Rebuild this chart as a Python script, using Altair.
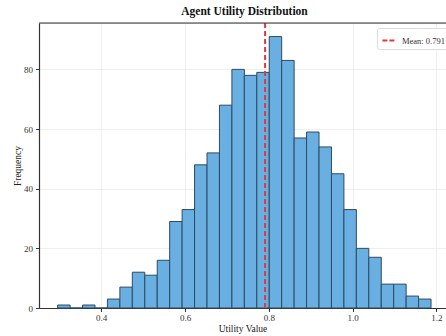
import altair as alt
import pandas as pd

# ---- data ----
bin_start = 0.296
bin_width = 0.0297
counts = [1, 0, 1, 0, 3, 7, 12, 11, 16, 29, 33, 48, 52, 68, 80, 78, 79, 91, 83,
          57, 59, 54, 45, 33, 20, 17, 8, 8, 4, 3]
mean_value = 0.791
mean_label = "Mean: 0.791"
x_ticks = [0.4, 0.6, 0.8, 1.0, 1.2]
y_ticks = [0, 20, 40, 60, 80]

bins = pd.DataFrame({
    "lo": [bin_start + i * bin_width for i in range(len(counts))],
    "hi": [bin_start + (i + 1) * bin_width for i in range(len(counts))],
    "count": counts,
})
mean_df = pd.DataFrame({"x": [mean_value], "label": [mean_label]})

FONT = "Liberation Serif"
xscale = alt.Scale(domain=[0.2515, 1.2227], nice=False, zero=False)
yscale = alt.Scale(domain=[0, 95.55], nice=False)

bars = alt.Chart(bins).mark_rect(
    fill="#6aafe2", stroke="#2e4a60", strokeWidth=1
).encode(
    x=alt.X("lo:Q", scale=xscale,
            axis=alt.Axis(values=x_ticks, format=".1f", title="Utility Value",
                          grid=True, gridColor="#ebebeb", gridWidth=0.8,
                          domainColor="#333333", domainWidth=1.2,
                          tickColor="#333333", tickSize=3.5,
                          labelFont=FONT, labelFontSize=9, labelColor="#333333",
                          labelPadding=2,
                          titleFont=FONT, titleFontSize=9.5, titleFontWeight="normal",
                          titleColor="#222222", titlePadding=1)),
    x2="hi:Q",
    y=alt.Y("count:Q", scale=yscale,
            axis=alt.Axis(values=y_ticks, title="Frequency",
                          grid=True, gridColor="#ebebeb", gridWidth=0.8,
                          domainColor="#333333", domainWidth=1.2,
                          tickColor="#333333", tickSize=3.5,
                          labelFont=FONT, labelFontSize=9, labelColor="#333333",
                          labelPadding=3,
                          titleFont=FONT, titleFontSize=9.5, titleFontWeight="normal",
                          titleColor="#222222", titlePadding=1)),
    y2=alt.datum(0),
)

mean_rule = alt.Chart(mean_df).mark_rule(strokeDash=[5, 3], strokeWidth=2).encode(
    x=alt.X("x:Q", scale=xscale),
    color=alt.Color("label:N", scale=alt.Scale(range=["#e0393e"]),
                    legend=alt.Legend(title=None, orient="none",
                                      legendX=338, legendY=5,
                                      symbolType="stroke", symbolStrokeWidth=2,
                                      symbolDash=[5, 2], symbolSize=200,
                                      labelFont=FONT, labelFontSize=8.5,
                                      labelColor="#333333",
                                      fillColor="white", strokeColor="#dddddd",
                                      padding=4, cornerRadius=2)),
)

top_line = alt.Chart(mean_df).mark_rule(color="#333333", strokeWidth=1.2).encode(
    y=alt.value(0), x=alt.value(0), x2=alt.value(407)
)

chart = alt.layer(bars, mean_rule, top_line).properties(
    width=407, height=285,
    title=alt.TitleParams("Agent Utility Distribution", font=FONT, fontSize=11.5,
                          fontWeight="bold", color="#111111", anchor="middle",
                          dx=2, offset=5),
    autosize=alt.AutoSizeParams(type="none"),
    padding={"left": 39, "top": 23, "right": 0, "bottom": 28},
).configure_view(stroke=None).configure(background="white")

chart.save("out.html", embed_options={"renderer": "svg", "actions": False})
